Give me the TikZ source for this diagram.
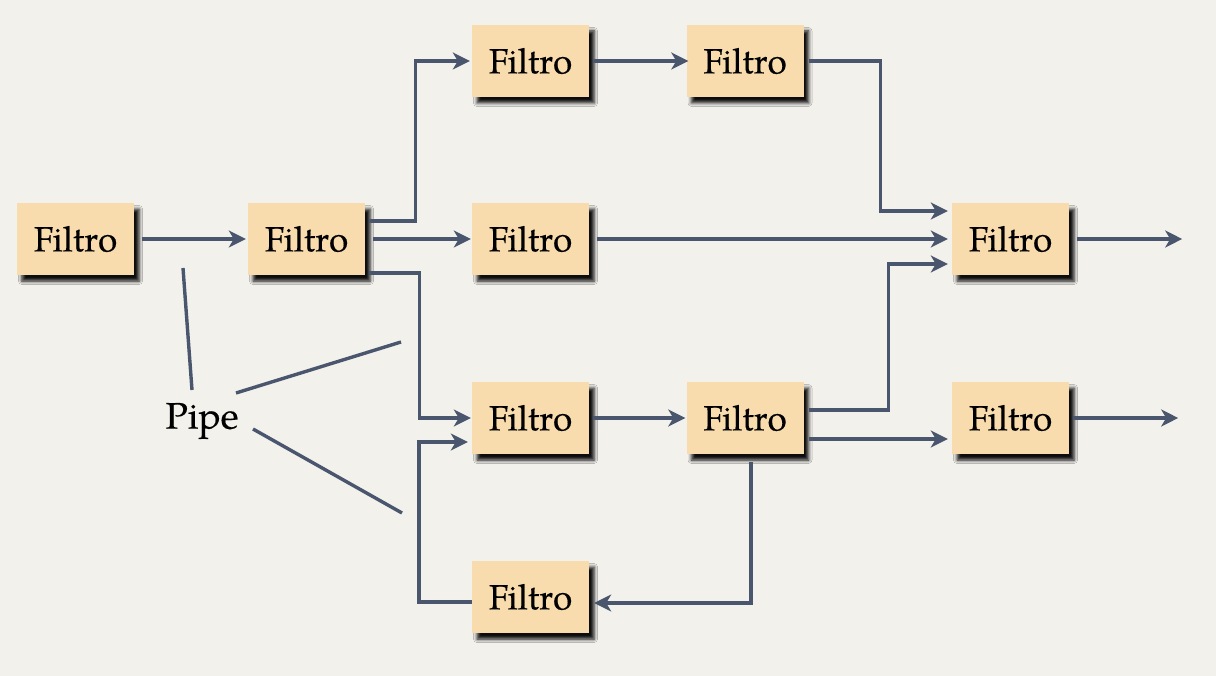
\documentclass[tikz,border=0pt]{standalone}
\usepackage{fontspec}
\setmainfont{TeX Gyre Pagella}[FakeBold=0.35]
\usetikzlibrary{arrows.meta,shadows.blur}
\definecolor{bgcol}{RGB}{243,241,236}
\definecolor{boxfill}{RGB}{249,220,173}
\definecolor{linecol}{RGB}{74,86,110}
\tikzset{
  filterbox/.style={fill=boxfill, minimum width=117pt, minimum height=72pt, inner sep=0pt,
    font=\fontsize{35}{40}\selectfont,
    blur shadow={shadow xshift=5pt, shadow yshift=-6pt, shadow blur radius=3.5pt, shadow opacity=95}},
  conn/.style={draw=linecol, line width=3.4pt, -{Stealth[length=17pt,width=17pt,inset=5pt]}},
  pipeline/.style={draw=linecol, line width=3.4pt},
  plabel/.style={font=\fontsize{37}{42}\selectfont, inner sep=0pt}
}
\begin{document}
\begin{tikzpicture}[x=1pt,y=-1pt]
\fill[bgcol] (0,0) rectangle (1216,676);
\useasboundingbox (0,0) rectangle (1216,676);

\node[filterbox] (A) at (75.5,239) {Filtro};
\node[filterbox] (B) at (306.5,239) {Filtro};
\node[filterbox] (C) at (530.5,239) {Filtro};
\node[filterbox] (E) at (530.5,61) {Filtro};
\node[filterbox] (F) at (745,61) {Filtro};
\node[filterbox] (D) at (1010.5,239) {Filtro};
\node[filterbox] (G) at (530.5,418) {Filtro};
\node[filterbox] (H) at (745,418) {Filtro};
\node[filterbox] (I) at (1010.5,418) {Filtro};
\node[filterbox] (J) at (530.5,597) {Filtro};

\node[plabel] (P) at (202,421) {Pipe};

% connectors
\draw[conn, shorten <=8pt, shorten >=2pt] (A.east) -- (B.west);
\draw[conn, shorten <=8pt, shorten >=1pt] (B.east) -- (C.west);
\draw[conn, shorten >=2pt] ([xshift=4pt,yshift=18pt]B.east) -- ++(46pt,0) |- (E.west);
\draw[conn, shorten >=1pt] ([xshift=4pt,yshift=-34pt]B.east) -- ++(50pt,0) |- (G.west);
\draw[conn, shorten <=4pt, shorten >=-2pt] (E.east) -- (F.west);
\draw[conn, shorten >=4pt] ([xshift=5pt]F.east) -- ++(72pt,0) |- ([yshift=28pt]D.west);
\draw[conn, shorten <=8pt, shorten >=4pt] (C.east) -- (D.west);
\draw[conn, shorten <=8pt] (D.east) -- ++(113pt,0);
\draw[conn, shorten <=4pt, shorten >=1pt] (G.east) -- (H.west);
\draw[conn, shorten >=4pt] ([xshift=5pt,yshift=8pt]H.east) -- ++(80pt,0) |- ([yshift=-25pt]D.west);
\draw[conn, shorten >=4pt] ([xshift=5pt,yshift=-21pt]H.east) -- ([yshift=-21pt]I.west);
\draw[conn, shorten <=4pt] (I.east) -- ++(109pt,0);
\draw[conn, shorten >=5pt] ([xshift=6pt,yshift=-8pt]H.south) |- ([yshift=-6pt]J.east);
\draw[conn, shorten >=4pt] ([yshift=-5pt]J.west) -- ++(-53pt,0) |- ([yshift=-24pt]G.west);

% pipe pointers
\coordinate (p1a) at (183,268);
\coordinate (p1b) at (192,390);
\coordinate (p2a) at (236,393);
\coordinate (p2b) at (401,342);
\coordinate (p3a) at (253,429);
\coordinate (p3b) at (402,513);
\draw[pipeline] (p1b) -- (p1a);
\draw[pipeline] (p2a) -- (p2b);
\draw[pipeline] (p3a) -- (p3b);
\end{tikzpicture}
\end{document}
